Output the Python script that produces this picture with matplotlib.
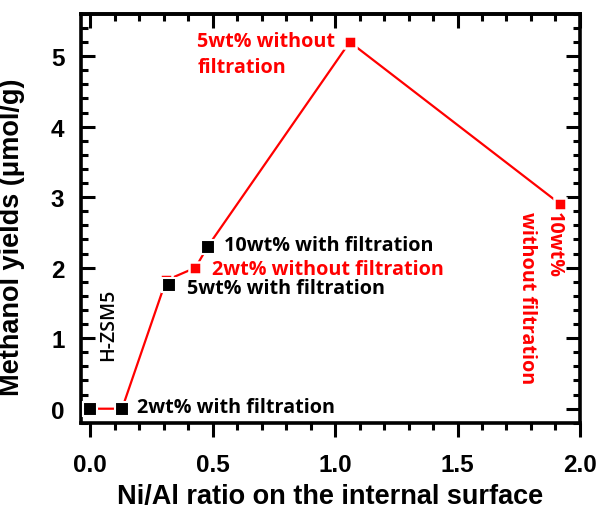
import matplotlib.pyplot as plt
from matplotlib.ticker import MultipleLocator

# red series: samples without filtration (drawn as one connected line)
red_x = [0.0, 0.13, 0.31, 0.43, 0.48, 1.06, 1.92]
red_y = [0.0, 0.0, 1.82, 2.0, 2.3, 5.2, 2.9]

# black series: samples with filtration + parent zeolite
black_x = [0.0, 0.13, 0.32, 0.48]
black_y = [0.0, 0.0, 1.75, 2.3]

RED = '#ff0000'
ann_font = {'family': 'Open Sans', 'weight': 'bold', 'size': 14.2}

fig = plt.figure(figsize=(6.01, 5.10), dpi=100)
ax = fig.add_axes([0.135, 0.169, 0.83, 0.802])

ax.plot(red_x, red_y, color=RED, linewidth=1.6, marker='s', markersize=8,
        markerfacecolor=RED, markeredgecolor='white', markeredgewidth=1.8, zorder=2)
ax.plot(black_x, black_y, linestyle='none', marker='s', markersize=9.5,
        markerfacecolor='black', markeredgecolor='white', markeredgewidth=1.5, zorder=3)

ax.text(0.437, 5.36, '5wt% without\nfiltration', color=RED, ha='left', va='top',
        linespacing=1.45, **ann_font)
ax.text(0.545, 2.32, '10wt% with filtration', color='black', ha='left', va='center', **ann_font)
ax.text(0.497, 1.98, '2wt% without filtration', color=RED, ha='left', va='center', **ann_font)
ax.text(0.395, 1.71, '5wt% with filtration', color='black', ha='left', va='center', **ann_font)
ax.text(0.19, 0.02, '2wt% with filtration', color='black', ha='left', va='center', **ann_font)
ax.text(0.073, 1.2, 'H-ZSM5', color='black', rotation=90, ha='center', va='center',
        family='Open Sans', weight='semibold', size=14)
ax.text(1.84, 2.80, '10wt%\nwithout filtration', color=RED, rotation=270, ha='center', va='top',
        multialignment='left', linespacing=1.45, **ann_font)

ax.set_xlim(-0.037, 2.0)
ax.set_ylim(-0.2, 5.6)
ax.xaxis.set_major_locator(MultipleLocator(0.5))
ax.xaxis.set_minor_locator(MultipleLocator(0.1))
ax.yaxis.set_major_locator(MultipleLocator(1))
ax.yaxis.set_minor_locator(MultipleLocator(0.2))

for sp in ax.spines.values():
    sp.set_linewidth(2.6)

ax.tick_params(axis='y', which='both', direction='in', left=True, right=True, width=2.2)
ax.tick_params(axis='y', which='major', length=10, pad=12)
ax.tick_params(axis='y', which='minor', length=5)
ax.tick_params(axis='x', which='both', direction='out', bottom=True, top=False, width=2.2)
ax.tick_params(axis='x', which='major', length=10, pad=12)
ax.tick_params(axis='x', which='minor', length=5)

# top ticks point inward
sec = ax.secondary_xaxis('top')
sec.xaxis.set_major_locator(MultipleLocator(0.5))
sec.xaxis.set_minor_locator(MultipleLocator(0.1))
sec.tick_params(axis='x', which='both', direction='in', width=2.2, labeltop=False)
sec.tick_params(axis='x', which='major', length=10)
sec.tick_params(axis='x', which='minor', length=5)
sec.spines['top'].set_linewidth(2.6)

for lab in ax.get_xticklabels() + ax.get_yticklabels():
    lab.set_fontfamily('Liberation Sans')
    lab.set_fontweight('bold')
    lab.set_fontsize(17.5)

ax.set_xlabel('Ni/Al ratio on the internal surface', family='Liberation Sans',
              weight='bold', size=19.5)
ax.set_ylabel('Methanol yields (μmol/g)', family='Liberation Sans',
              weight='bold', size=19.5)
ax.xaxis.set_label_coords(0.5, -0.148)
ax.yaxis.set_label_coords(-0.112, 0.457)

fig.savefig('out.png', dpi=100)
